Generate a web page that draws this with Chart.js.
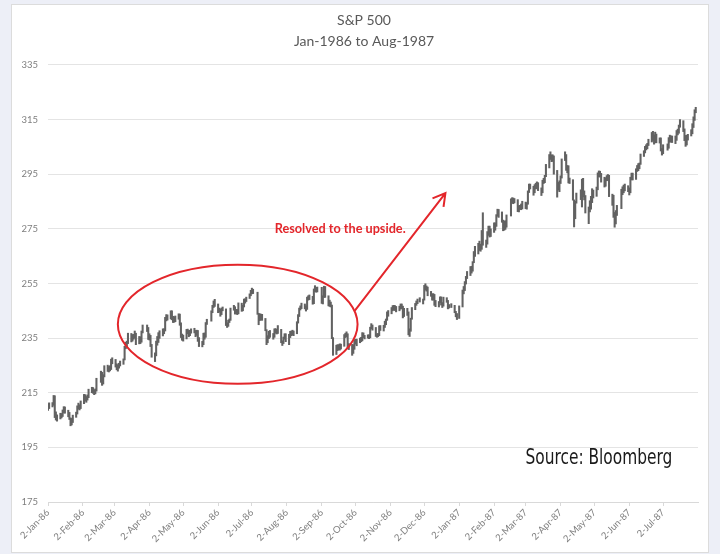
<!DOCTYPE html>
<html>
<head>
<meta charset="utf-8">
<script src="https://cdn.jsdelivr.net/npm/chart.js@4.4.1/dist/chart.umd.min.js"></script>
<style>
  html, body { margin: 0; padding: 0; background: #edeff7; }
  body { width: 720px; height: 554px; position: relative; overflow: hidden; }
  #box { position: absolute; left: 11px; top: 4px; width: 696px; height: 547px; background: #fff; border: 1px solid #dcdcdc; }
  #c { position: absolute; left: 0; top: 0; }
</style>
</head>
<body>
<div id="box"></div>
<canvas id="c" width="720" height="554"></canvas>
<script>
// S&P 500 daily high / low, one row per month (trading days in order)
const months = ['1986-01','1986-02','1986-03','1986-04','1986-05','1986-06','1986-07','1986-08','1986-09','1986-10','1986-11','1986-12',
                '1987-01','1987-02','1987-03','1987-04','1987-05','1987-06','1987-07'];
const holidays = ['1986-01-01','1986-02-17','1986-03-28','1986-05-26','1986-07-04','1986-09-01','1986-11-27','1986-12-25',
                  '1987-01-01','1987-02-16','1987-04-17','1987-05-25','1987-07-03'];

const lows = [
  [208.5,209.2,209.8,210.4,205.9,205.0,204.6,205.4,205.8,206.3,207.6,207.5,206.2,205.2,202.9,203.2,204.1,206.0,207.2,209.0,208.7,209.2],
  [211.0,212.0,211.5,212.3,213.2,215.0,214.8,214.3,214.6,215.6,218.8,217.7,218.2,220.8,222.8,222.6,223.0,223.5,225.6],
  [224.4,223.4,222.9,224.0,224.8,225.4,227.0,231.1,231.7,233.0,233.6,233.9,234.6,235.0,232.6,232.9,233.0,233.5,236.9,237.4],
  [234.5,234.3,231.9,228.0,226.4,228.5,232.4,233.4,234.9,235.8,236.6,237.6,241.3,241.6,242.0,241.7,240.7,240.8,241.0,241.9,239.7,235.2],
  [234.2,233.9,234.7,236.6,235.5,235.9,236.8,236.9,235.5,236.0,233.8,231.9,231.8,232.6,234.6,235.3,240.0,241.2,244.3,246.2,246.6],
  [244.3,244.5,243.0,243.6,245.0,239.6,238.9,239.3,240.7,241.5,245.2,243.8,243.9,243.6,243.9,244.8,245.0,246.4,247.8,248.4,249.5],
  [250.5,251.2,251.3,243.7,239.9,241.4,241.7,241.5,237.7,232.6,233.3,234.8,235.3,234.6,235.3,236.8,236.5,236.7,233.3,232.3,233.0,234.6],
  [233.7,232.6,235.2,235.9,236.1,235.9,236.6,240.5,242.9,245.3,245.8,245.7,244.9,245.5,248.9,249.1,247.4,247.6,252.0,251.8,251.9],
  [247.7,247.5,249.9,249.9,246.8,246.6,246.4,234.8,228.7,229.0,230.4,230.7,230.6,231.0,232.0,235.2,235.5,231.4,230.8,228.7,229.4],
  [230.9,232.8,232.2,233.3,233.7,234.0,235.2,234.7,235.0,234.8,235.1,238.4,237.9,235.6,235.3,235.5,235.9,237.8,237.6,238.9,239.9,241.5,243.0],
  [243.9,245.0,245.3,245.1,244.6,245.0,245.6,245.8,242.4,242.9,243.3,236.2,235.6,237.5,241.9,245.4,247.0,247.6,248.2],
  [247.5,248.9,252.6,252.2,250.5,250.3,248.9,248.9,247.0,246.5,246.4,248.0,247.1,246.2,246.7,248.1,245.7,246.0,246.2,244.3,242.8,241.8],
  [242.2,246.4,251.2,252.4,254.8,256.8,257.9,258.8,259.5,262.6,264.9,265.8,267.1,266.8,267.5,269.0,268.2,269.4,272.6,272.0,272.2],
  [273.7,274.5,275.9,279.6,279.2,277.4,274.3,274.5,274.8,275.6,279.7,284.4,284.2,284.5,281.3,281.2,282.1,282.0,282.3],
  [282.4,282.2,284.0,288.3,289.6,287.3,288.2,289.6,289.7,289.0,287.2,288.2,291.6,291.9,294.1,297.3,300.4,299.6,299.7,295.0,286.6,289.2],
  [288.6,291.6,293.6,300.0,296.4,295.5,291.8,291.6,285.5,275.7,278.7,284.4,285.7,283.0,286.7,285.6,280.8,276.9,281.2,282.2,284.6],
  [286.3,286.9,289.3,294.0,294.0,292.1,290.3,290.6,292.6,292.7,286.8,283.6,279.2,275.6,276.8,279.9,282.4,287.5,288.2,288.9],
  [288.6,287.4,288.2,292.9,292.9,293.1,296.0,296.3,297.0,298.6,301.5,302.8,303.9,304.3,305.5,306.8,307.4,306.0,306.5,306.5,306.4,303.5],
  [302.0,302.5,303.8,304.5,306.7,306.8,306.6,306.2,307.4,309.4,310.0,312.2,310.6,307.3,305.2,305.7,307.5,309.0,309.8,312.1,314.7,317.5]
];
const highs = [
  [210.9,211.3,211.4,214.0,213.9,208.0,206.9,207.5,207.4,208.7,209.9,209.8,208.6,207.8,205.8,205.6,206.8,207.9,210.2,211.2,210.6,212.0],
  [214.4,214.3,213.6,214.2,216.3,217.0,216.9,216.1,216.4,220.3,222.9,222.5,221.6,224.9,225.1,224.6,224.9,227.3,227.8],
  [227.2,225.6,225.2,225.8,226.6,227.4,232.0,233.5,233.9,236.8,236.7,236.3,236.4,237.6,236.8,235.6,235.5,237.6,239.8,239.8],
  [238.9,236.6,236.0,232.7,229.6,233.9,235.6,237.0,237.7,238.4,238.4,242.6,243.6,243.5,245.0,245.0,243.0,242.8,243.1,243.9,243.8,240.6],
  [236.5,236.1,238.2,238.3,237.8,237.9,238.4,238.6,237.8,237.9,237.8,235.2,233.8,236.8,236.9,240.7,241.9,245.0,247.0,248.6,249.2],
  [247.5,246.0,245.6,246.0,246.4,245.7,240.6,241.6,242.0,246.0,247.0,246.5,245.5,245.5,247.9,247.8,247.0,249.3,249.4,250.0,251.2],
  [252.5,253.3,252.9,251.8,244.1,243.9,243.8,243.7,242.2,238.1,235.9,237.5,237.8,236.7,238.4,238.5,238.2,239.6,238.2,234.0,235.4,236.6],
  [236.6,236.4,237.5,237.6,237.9,237.6,241.0,243.6,246.0,246.8,247.8,247.5,246.8,250.0,250.5,250.8,250.3,253.0,254.2,253.6,253.7],
  [253.6,250.5,254.0,253.9,250.5,248.9,248.2,247.1,235.2,232.4,232.6,232.6,232.9,232.8,236.3,236.8,237.3,236.6,233.0,232.7,232.6],
  [234.4,234.6,234.6,235.0,235.3,237.0,236.9,236.0,236.2,236.2,239.0,240.3,239.8,238.9,236.6,236.7,239.5,239.6,239.7,241.2,242.0,244.6,245.1],
  [246.2,246.9,247.0,246.9,246.6,246.7,247.5,247.5,246.7,245.9,245.9,244.6,238.4,242.3,246.2,247.7,248.6,249.3,249.8],
  [249.3,254.3,254.9,254.1,253.7,252.1,251.2,251.3,251.0,248.8,248.4,250.1,250.1,248.0,250.0,249.8,248.8,247.3,247.6,247.0,244.8,244.0],
  [246.8,252.6,253.9,255.7,257.6,259.4,261.2,261.3,263.0,266.7,268.6,269.7,270.5,269.4,274.4,280.9,270.9,274.0,276.0,276.0,275.0],
  [277.2,277.2,280.2,282.2,282.1,281.2,278.2,277.8,278.0,280.1,286.0,286.4,286.3,286.1,285.7,283.5,283.6,284.1,285.1],
  [284.8,284.6,288.9,291.4,291.4,290.6,291.2,291.7,292.2,291.9,290.0,292.8,293.5,294.6,298.6,302.2,303.2,302.1,302.1,301.7,296.4,292.0],
  [292.6,294.4,300.6,303.2,302.2,298.2,298.1,293.6,293.0,285.6,285.1,288.1,289.3,293.2,293.5,288.9,287.2,283.0,285.3,286.9,289.7],
  [289.2,290.3,295.5,296.2,296.1,295.3,293.9,293.7,294.5,294.9,294.6,287.7,287.3,281.0,281.7,283.6,289.5,290.4,291.0,291.4],
  [290.8,290.0,293.9,295.4,295.4,297.0,298.2,298.9,299.1,302.4,303.6,305.2,305.8,306.3,307.8,310.3,310.7,309.4,310.4,309.7,308.3,308.3],
  [304.4,305.8,306.1,308.4,309.3,309.0,309.0,309.0,311.0,311.5,313.0,315.0,314.6,311.6,309.2,309.3,309.6,311.3,313.5,316.0,318.6,319.5]
];

const tickLabels = ['2-Jan-86','2-Feb-86','2-Mar-86','2-Apr-86','2-May-86','2-Jun-86','2-Jul-86','2-Aug-86','2-Sep-86','2-Oct-86',
                    '2-Nov-86','2-Dec-86','2-Jan-87','2-Feb-87','2-Mar-87','2-Apr-87','2-May-87','2-Jun-87','2-Jul-87'];

// annotation anchors, in axis units (days since 2-Jan-86, index points)
const ring = { day: 168.4, level: 240.1, halfDays: 106.4, halfPts: 21.8 };
const arrow = { fromDay: 272.2, fromLevel: 245.0, toDay: 352.8, toLevel: 288.1 };
const note = { text: 'Resolved to the upside.', day: 201.2, level: 275.0 };
const source = { text: 'Source: Bloomberg', day: 423.8, level: 189.0, width: 147 };

const MON = ['Jan','Feb','Mar','Apr','May','Jun','Jul','Aug','Sep','Oct','Nov','Dec'];
const BASE = Date.UTC(1986, 0, 2);
const dayOf = (y, m, d) => (Date.UTC(y, m, d) - BASE) / 864e5;

function tradingDays(ym) {
  const [y, m] = ym.split('-').map(Number);
  const out = [];
  const n = new Date(Date.UTC(y, m, 0)).getUTCDate();
  for (let d = 1; d <= n; d++) {
    const wd = new Date(Date.UTC(y, m - 1, d)).getUTCDay();
    const key = ym + '-' + String(d).padStart(2, '0');
    if (wd === 0 || wd === 6 || holidays.includes(key)) continue;
    out.push(dayOf(y, m - 1, d));
  }
  return out;
}

const points = [];
months.forEach((ym, i) => {
  const days = tradingDays(ym);
  if (days.length !== lows[i].length) console.warn('count mismatch', ym, days.length, lows[i].length);
  days.forEach((x, j) => {
    if (lows[i][j] !== undefined) points.push({ x: x, y: [lows[i][j], highs[i][j]] });
  });
});

const tickDays = tickLabels.map(s => {
  const [d, mon, yy] = s.split('-');
  return dayOf(1900 + Number(yy), MON.indexOf(mon), Number(d));
});

// the original title sits a little right of the canvas centre
const titleShift = {
  id: 'titleShift',
  afterLayout(chart) {
    chart.titleBlock.left += 15;
    chart.titleBlock.right += 15;
  }
};

const notes = {
  id: 'notes',
  afterDatasetsDraw(chart) {
    const { ctx, scales: { x, y } } = chart;
    ctx.save();
    ctx.strokeStyle = '#e3262b';
    ctx.lineWidth = 2;

    const cx = x.getPixelForValue(ring.day), cy = y.getPixelForValue(ring.level);
    const rx = x.getPixelForValue(ring.day + ring.halfDays) - cx;
    const ry = cy - y.getPixelForValue(ring.level + ring.halfPts);
    ctx.beginPath();
    ctx.ellipse(cx, cy, rx, ry, 0, 0, Math.PI * 2);
    ctx.stroke();

    const x1 = x.getPixelForValue(arrow.fromDay), y1 = y.getPixelForValue(arrow.fromLevel);
    const x2 = x.getPixelForValue(arrow.toDay), y2 = y.getPixelForValue(arrow.toLevel);
    const a = Math.atan2(y2 - y1, x2 - x1);
    ctx.beginPath();
    ctx.moveTo(x1, y1);
    ctx.lineTo(x2, y2);
    ctx.moveTo(x2 - 14 * Math.cos(a - 0.52), y2 - 14 * Math.sin(a - 0.52));
    ctx.lineTo(x2, y2);
    ctx.lineTo(x2 - 14 * Math.cos(a + 0.52), y2 - 14 * Math.sin(a + 0.52));
    ctx.stroke();

    ctx.fillStyle = '#e3262b';
    ctx.font = 'bold 12.7px Lato';
    ctx.textBaseline = 'middle';
    ctx.fillText(note.text, x.getPixelForValue(note.day), y.getPixelForValue(note.level));

    // narrow caption, squeezed to the width it has in the original
    ctx.fillStyle = '#1a1a1a';
    ctx.font = '22px "Liberation Sans Narrow", "DejaVu Sans Condensed", sans-serif';
    ctx.textBaseline = 'alphabetic';
    const sx = x.getPixelForValue(source.day), sy = y.getPixelForValue(source.level);
    const w = ctx.measureText(source.text).width;
    ctx.translate(sx, sy);
    ctx.scale(source.width / w, 1);
    ctx.fillText(source.text, 0, 0);
    ctx.restore();
  }
};

new Chart(document.getElementById('c'), {
  type: 'bar',
  data: {
    datasets: [{
      data: points,
      backgroundColor: '#626262',
      borderWidth: 0,
      barThickness: 1.4,
      grouped: false
    }]
  },
  options: {
    responsive: false,
    animation: false,
    devicePixelRatio: 1,
    layout: { padding: { left: 0, right: 22, top: 0, bottom: 0 } },
    plugins: {
      legend: { display: false },
      tooltip: { enabled: false },
      title: {
        display: true,
        text: ['S&P 500', 'Jan-1986 to Aug-1987'],
        color: '#595959',
        font: { family: 'Lato', size: 14, weight: 'normal', lineHeight: 1.57 },
        padding: { top: 9, bottom: 12 }
      }
    },
    scales: {
      x: {
        type: 'linear',
        min: 0,
        max: 577,
        offset: false,
        afterBuildTicks: s => { s.ticks = tickDays.map(v => ({ value: v })); },
        afterFit: s => { s.height = 52; },
        grid: { offset: false, drawOnChartArea: false, drawTicks: true, tickLength: 4, color: '#d9d9d9' },
        border: { color: '#d9d9d9' },
        ticks: {
          autoSkip: false,
          minRotation: 45,
          maxRotation: 45,
          padding: 1,
          color: '#7f7f7f',
          font: { family: 'Lato', size: 9.5 },
          callback: v => tickLabels[tickDays.indexOf(v)]
        }
      },
      y: {
        min: 175,
        max: 335,
        afterFit: s => { s.width = 48; },
        border: { display: false },
        grid: { color: '#e4e4e4', drawTicks: false },
        ticks: { stepSize: 20, padding: 10, color: '#7f7f7f', font: { family: 'Lato', size: 9.5 } }
      }
    }
  },
  plugins: [titleShift, notes]
});
</script>
</body>
</html>
